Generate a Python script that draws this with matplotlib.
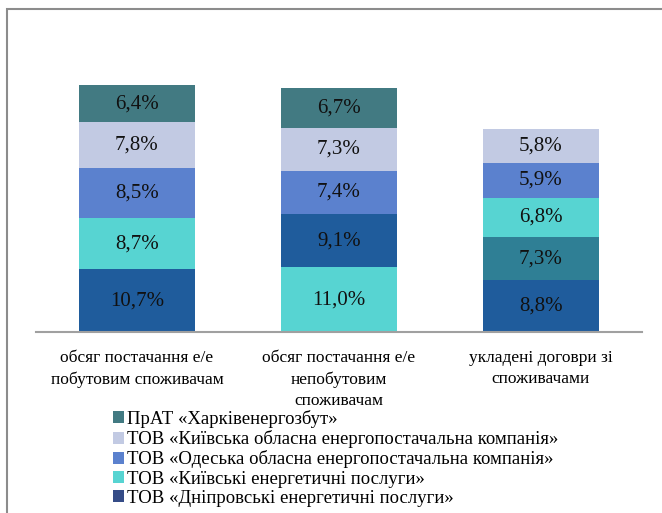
import matplotlib
matplotlib.use("Agg")
import matplotlib.pyplot as plt
from matplotlib.patches import Rectangle, Patch
import numpy as np

categories = ["обсяг постачання е/е\nпобутовим споживачам",
              "обсяг постачання е/е\nнепобутовим\nспоживачам",
              "укладені договри зі\nспоживачами"]
companies = ["ПрАТ «Харківенергозбут»",
             "ТОВ «Київська обласна енергопостачальна компанія»",
             "ТОВ «Одеська обласна енергопостачальна компанія»",
             "ТОВ «Київські енергетичні послуги»",
             "ТОВ «Дніпровські енергетичні послуги»"]
kharkiv = [6.4, 6.7, 7.3]
kyiv_obl = [7.8, 7.3, 5.8]
odesa = [8.5, 7.4, 5.9]
kyiv_serv = [8.7, 11.0, 6.8]
dnipro = [10.7, 9.1, 8.8]
series = [kharkiv, kyiv_obl, odesa, kyiv_serv, dnipro]

bar_colors = ["#427A82", "#C2CAE3", "#5B81CE", "#57D4D2", "#1F5C9C"]
bar3_kharkiv_color = "#2F7F95"
legend_colors = ["#427A82", "#C2CAE3", "#5B81CE", "#57D4D2", "#354C87"]

plt.rcParams['font.family'] = ['Liberation Serif', 'DejaVu Serif']

W, H = 662, 513
fig = plt.figure(figsize=(W/100, H/100), dpi=100)
ax = fig.add_axes([36/W, (H-332)/H, 606/W, 293.5/H])

x = np.arange(len(categories))
width = 116/202
vals = np.array(series)  # companies x categories
for j in range(len(categories)):
    order = np.argsort(-vals[:, j], kind="stable")
    bottom = 0.0
    for i in order:
        v = vals[i, j]
        c = bar_colors[i]
        if i == 0 and j == 2:
            c = bar3_kharkiv_color
        ax.bar(x[j], v, width, bottom=bottom, color=c, edgecolor="none")
        ax.text(x[j], bottom + v/2, f"{v:.1f}%".replace(".", ","),
                ha="center", va="center", fontsize=15, color="#111111")
        bottom += v

ax.set_xlim(-0.5, 2.5)
ax.set_ylim(0, 50)
ax.set_xticks(x)
ax.set_xticklabels(categories, fontsize=12.5, linespacing=1.42)
ax.tick_params(axis="x", length=0, pad=13)
ax.set_yticks([])
for s in ["top", "right", "left"]:
    ax.spines[s].set_visible(False)
ax.spines["bottom"].set_color("#A0A0A0")
ax.spines["bottom"].set_linewidth(1.5)

# frame of the figure (only top and left visible)
fig.patches.append(Rectangle((6.5/W, -0.1), 1.0, (H-9)/H + 0.1, transform=fig.transFigure,
                             fill=False, edgecolor="#8C8C8C", linewidth=1.5))

handles = [Patch(facecolor=c, edgecolor="none") for c in legend_colors]
fig.legend(handles, companies, loc="upper left", bbox_to_anchor=(113/W, (H-410)/H),
           frameon=False, fontsize=13.5, handlelength=0.6, handleheight=0.6,
           handletextpad=0.15, labelspacing=0.12, borderaxespad=0, borderpad=0)

fig.savefig("out.png", dpi=100)
